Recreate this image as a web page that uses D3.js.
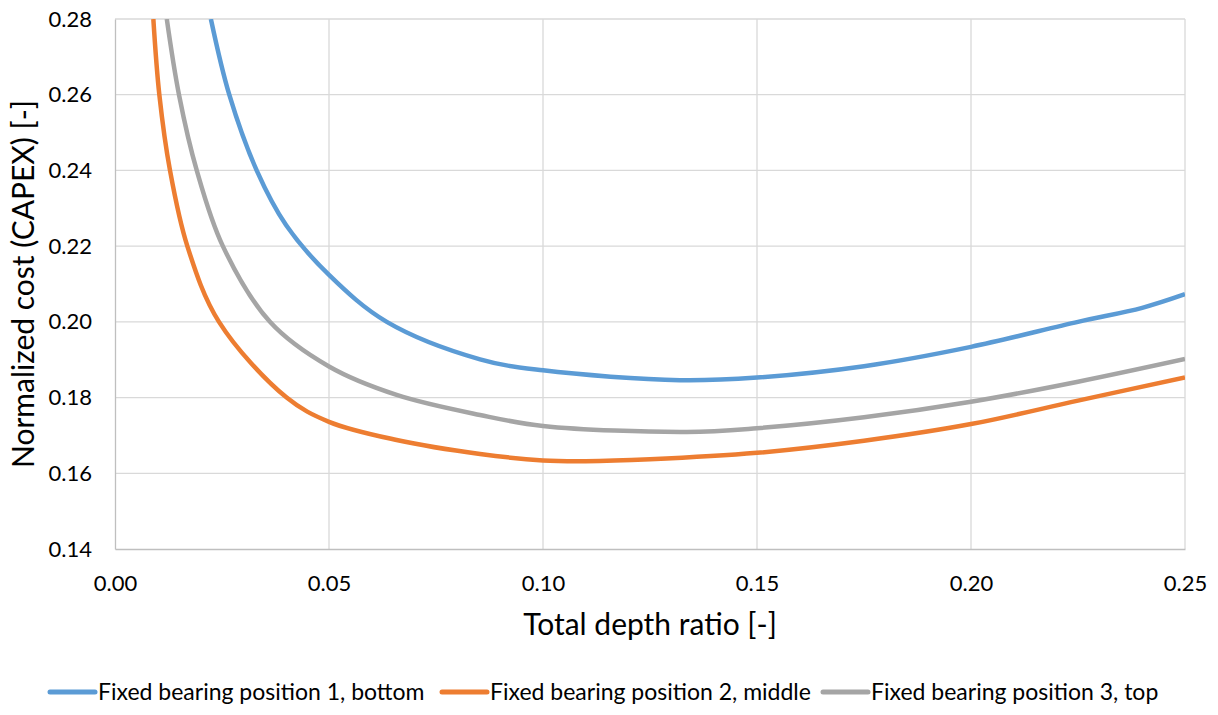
<!DOCTYPE html>
<html>
<head>
<meta charset="utf-8">
<script src="https://cdn.jsdelivr.net/npm/d3@7"></script>
<style>
  body { margin: 0; background: #fff; }
  text { font-family: Lato, "Open Sans", sans-serif; fill: #000; }
</style>
</head>
<body>
<div id="chart"></div>
<script>
const width = 1218;
const height = 715;

// values
const xTicks = [0.00, 0.05, 0.10, 0.15, 0.20, 0.25];
const yTicks = [0.14, 0.16, 0.18, 0.20, 0.22, 0.24, 0.26, 0.28];

const depthBottom = [0.0224, 0.0267, 0.0331, 0.040, 0.05, 0.0635, 0.0853, 0.10, 0.132, 0.15, 0.175, 0.20, 0.225, 0.24, 0.25];
const costBottom  = [0.280, 0.260, 0.240, 0.2255, 0.2124, 0.200, 0.1901, 0.1872, 0.1846, 0.1853, 0.1883, 0.1934, 0.2000, 0.2037, 0.2073];

const depthMiddle = [0.00896, 0.01036, 0.01285, 0.0169, 0.0243, 0.0401, 0.05, 0.0658, 0.0853, 0.10, 0.11, 0.125, 0.15, 0.175, 0.20, 0.225, 0.25];
const costMiddle  = [0.280, 0.260, 0.240, 0.220, 0.200, 0.180, 0.1736, 0.1688, 0.1651, 0.1634, 0.1632, 0.1637, 0.1654, 0.1686, 0.1730, 0.1792, 0.1853];

const depthTop = [0.0121, 0.01495, 0.0191, 0.0252, 0.0362, 0.05, 0.0658, 0.0853, 0.10, 0.1336, 0.15, 0.175, 0.20, 0.225, 0.25];
const costTop  = [0.280, 0.260, 0.240, 0.220, 0.200, 0.1882, 0.1807, 0.1754, 0.1725, 0.1709, 0.1719, 0.1748, 0.1789, 0.1842, 0.1902];

const seriesNames = [
  "Fixed bearing position 1, bottom",
  "Fixed bearing position 2, middle",
  "Fixed bearing position 3, top"
];
const colors = ["#5B9BD5", "#ED7D31", "#A5A5A5"];

const series = [
  depthBottom.map((d, i) => ({ x: d, y: costBottom[i] })),
  depthMiddle.map((d, i) => ({ x: d, y: costMiddle[i] })),
  depthTop.map((d, i) => ({ x: d, y: costTop[i] }))
];

const margin = { left: 115, right: 33, top: 19, bottom: 166 };
const innerW = width - margin.left - margin.right;
const innerH = height - margin.top - margin.bottom;

const svg = d3.select("#chart")
  .append("svg")
  .attr("width", width)
  .attr("height", height);

const x = d3.scaleLinear().domain([0, 0.25]).range([0, innerW]);
const y = d3.scaleLinear().domain([0.14, 0.28]).range([innerH, 0]);

svg.append("clipPath")
  .attr("id", "plot-clip")
  .append("rect")
  .attr("width", innerW)
  .attr("height", innerH);

const g = svg.append("g")
  .attr("transform", `translate(${margin.left},${margin.top})`);

// gridlines
g.append("g")
  .selectAll("line")
  .data(yTicks.slice(1))
  .enter()
  .append("line")
  .attr("x1", 0)
  .attr("x2", innerW)
  .attr("y1", d => y(d))
  .attr("y2", d => y(d))
  .attr("stroke", "#D9D9D9")
  .attr("stroke-width", 1.3);

g.append("g")
  .selectAll("line")
  .data(xTicks.slice(1))
  .enter()
  .append("line")
  .attr("y1", 0)
  .attr("y2", innerH)
  .attr("x1", d => x(d))
  .attr("x2", d => x(d))
  .attr("stroke", "#D9D9D9")
  .attr("stroke-width", 1.3);

// axes
const xAxis = g.append("g")
  .attr("transform", `translate(0,${innerH})`)
  .call(d3.axisBottom(x).tickValues(xTicks).tickFormat(d3.format(".2f")).tickSize(0).tickPadding(26));

const yAxis = g.append("g")
  .call(d3.axisLeft(y).tickValues(yTicks).tickFormat(d3.format(".2f")).tickSize(0).tickPadding(23));

[xAxis, yAxis].forEach(a => {
  a.select(".domain").attr("stroke", "#BFBFBF").attr("stroke-width", 1.3);
  a.selectAll("text").style("font-size", "22px").attr("fill", "#000");
});

// lines
const line = d3.line()
  .x(d => x(d.x))
  .y(d => y(d.y))
  .curve(d3.curveCatmullRom.alpha(0.5));

g.append("g")
  .attr("clip-path", "url(#plot-clip)")
  .selectAll("path")
  .data(series)
  .enter()
  .append("path")
  .attr("d", line)
  .attr("fill", "none")
  .attr("stroke", (d, i) => colors[i])
  .attr("stroke-width", 4.5)
  .attr("stroke-linejoin", "round");

// axis titles
svg.append("text")
  .attr("x", margin.left + innerW / 2)
  .attr("y", 635)
  .attr("text-anchor", "middle")
  .style("font-size", "30px")
  .text("Total depth ratio [-]");

svg.append("text")
  .attr("transform", `translate(34,${margin.top + innerH / 2}) rotate(-90)`)
  .attr("text-anchor", "middle")
  .style("font-size", "30px")
  .text("Normalized cost (CAPEX) [-]");

// legend
const legendX = [50, 442, 823];
const legend = svg.append("g")
  .selectAll("g")
  .data(seriesNames)
  .enter()
  .append("g")
  .attr("transform", (d, i) => `translate(${legendX[i]},692)`);

legend.append("line")
  .attr("x1", 0)
  .attr("x2", 45)
  .attr("stroke", (d, i) => colors[i])
  .attr("stroke-width", 5)
  .attr("stroke-linecap", "round");

legend.append("text")
  .attr("x", 48)
  .attr("dy", "0.35em")
  .style("font-size", "23px")
  .text(d => d);
</script>
</body>
</html>
